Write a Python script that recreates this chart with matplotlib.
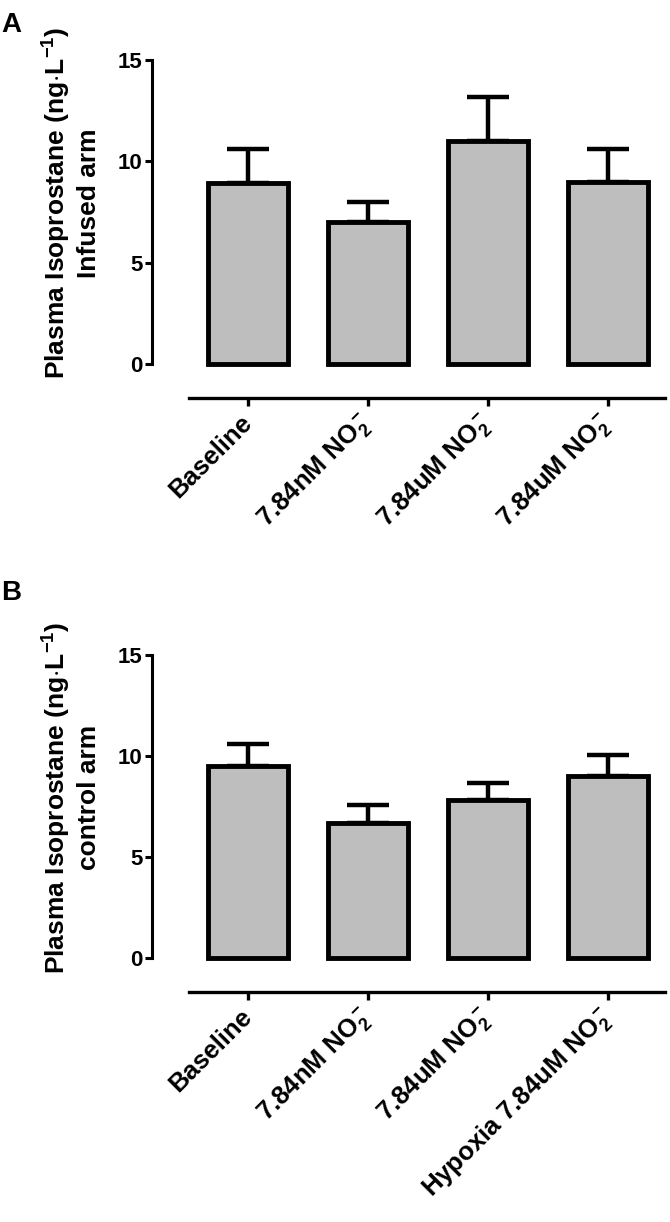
import numpy as np
import matplotlib
matplotlib.use("Agg")
import matplotlib.pyplot as plt

plt.rcParams['font.family'] = ['Liberation Sans', 'DejaVu Sans']
plt.rcParams['font.weight'] = 'bold'
plt.rcParams['mathtext.fontset'] = 'custom'
plt.rcParams['mathtext.rm'] = 'Liberation Sans:bold'
plt.rcParams['mathtext.it'] = 'Liberation Sans:bold'
plt.rcParams['mathtext.bf'] = 'Liberation Sans:bold'
plt.rcParams['mathtext.default'] = 'rm'

# data
labels_a = ['Baseline', r'7.84nM NO$_2^-$', r'7.84uM NO$_2^-$', r'7.84uM NO$_2^-$']
means_a = [8.95, 7.0, 11.0, 9.0]
errs_a = [1.65, 1.0, 2.15, 1.6]

labels_b = ['Baseline', r'7.84nM NO$_2^-$', r'7.84uM NO$_2^-$', r'Hypoxia 7.84uM NO$_2^-$']
means_b = [9.5, 6.7, 7.8, 9.0]
errs_b = [1.1, 0.85, 0.85, 1.05]

ylab_a = 'Plasma Isoprostane (ng$\\cdot$L$^{-1}$)\nInfused arm'
ylab_b = 'Plasma Isoprostane (ng$\\cdot$L$^{-1}$)\ncontrol arm'

W, H = 670, 1222
fig = plt.figure(figsize=(W/100, H/100), dpi=100)

def panel(rect, labels, means, errs, ylab):
    ax = fig.add_axes(rect)
    x = np.arange(len(labels))
    ax.errorbar(x, means, yerr=[np.zeros(len(errs)), errs], fmt='none',
                ecolor='black', elinewidth=3.2, capsize=15, capthick=3.2, zorder=2)
    ax.bar(x, means, width=0.66, color='#bebebe', edgecolor='black',
           linewidth=3.5, zorder=3, clip_on=False)
    ax.set_xlim(-0.8, 3.475)
    ax.set_ylim(0, 15)
    for s in ['top', 'right']:
        ax.spines[s].set_visible(False)
    ax.spines['left'].set_linewidth(2.2)
    ax.spines['bottom'].set_linewidth(2.4)
    ax.spines['bottom'].set_position(('outward', 24.5))
    ax.spines['bottom'].set_bounds(-0.49, 3.475)
    ax.tick_params(axis='y', length=5, width=2.2, labelsize=16, pad=2)
    ax.tick_params(axis='x', length=6, width=2.4, pad=9)
    ax.set_yticks([0, 5, 10, 15])
    ax.set_yticklabels(['0', '5', '10', '15'], fontweight='bold', fontsize=16)
    ax.set_xticks(x)
    ax.set_xticklabels(labels, rotation=45, ha='right', va='center',
                       rotation_mode='anchor', fontsize=18.5, fontweight='bold')
    ax.set_ylabel(ylab, fontsize=19, fontweight='bold', linespacing=1.2)
    ax.yaxis.set_label_coords(-0.1, 0.53)
    return ax

panel([152/W, 1-364/H, (665-152)/W, 304/H], labels_a, means_a, errs_a, ylab_a)
panel([152/W, 1-958/H, (665-152)/W, 303/H], labels_b, means_b, errs_b, ylab_b)

fig.text(1/W, 1-25/H, 'A', fontsize=20, fontweight='bold', va='center')
fig.text(1/W, 1-593/H, 'B', fontsize=20, fontweight='bold', va='center')

fig.savefig('out.png', dpi=100)
